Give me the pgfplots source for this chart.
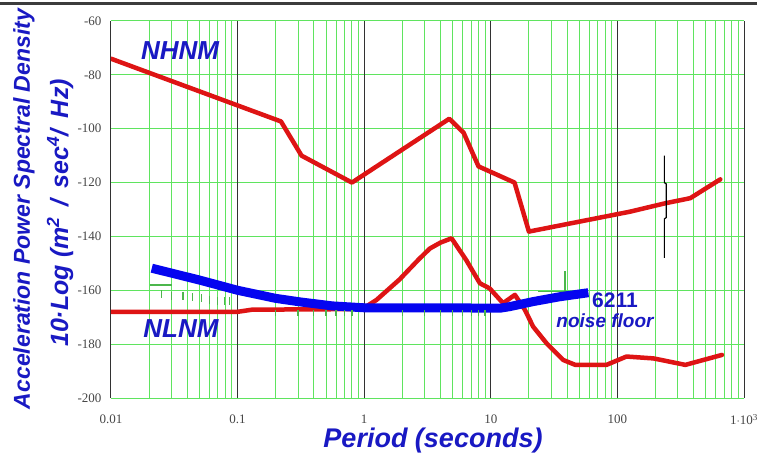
\documentclass[border=0pt]{standalone}
\usepackage{fontspec}
\setmainfont{Liberation Serif}
\newfontfamily\arial{Liberation Sans}
\usepackage{pgfplots}
\pgfplotsset{compat=1.18}
\definecolor{gridgreen}{RGB}{95,228,95}
\definecolor{decgray}{RGB}{50,50,50}
\definecolor{nred}{RGB}{222,20,20}
\definecolor{nblue}{RGB}{5,5,240}
\definecolor{tblue}{RGB}{25,25,195}
\definecolor{ticktext}{RGB}{70,70,70}
\definecolor{topbar}{RGB}{60,60,60}
\begin{document}
\begin{tikzpicture}[x=1pt,y=1pt]
\useasboundingbox (0,0) rectangle (757,453);
\fill[white] (0,0) rectangle (757,453);
\draw[line width=2.5pt, topbar] (0,449.5) -- (757,449.5);
\begin{axis}[
  at={(111pt,55pt)}, anchor=south west,
  scale only axis, width=633pt, height=377pt,
  xmode=log, xmin=0.01, xmax=1000, ymin=-200, ymax=-60,
  axis line style={draw=none},
  major tick length=0pt, minor tick length=0pt,
  xtick={0.01,0.1,1,10,100,1000},
  xticklabels={0.01,0.1,1,10,100,{1$\cdot$10\textsuperscript{3}}},
  minor xtick={0.02,0.03,0.04,0.05,0.06,0.07,0.08,0.09,
               0.2,0.3,0.4,0.5,0.6,0.7,0.8,0.9,
               2,3,4,5,6,7,8,9,20,30,40,50,60,70,80,90,
               200,300,400,500,600,700,800,900},
  xminorgrids=true,
  ytick={-200,-180,-160,-140,-120,-100,-80,-60},
  yticklabels={-200,-180,-160,-140,-120,-100,-80,-60},
  ymajorgrids=true,
  major grid style={gridgreen, line width=1pt},
  minor grid style={gridgreen, line width=1pt},
  extra x ticks={0.01,0.1,1,10,100,1000},
  extra x tick labels={},
  extra x tick style={grid=major, major grid style={decgray, line width=1pt}},
  xticklabel style={font=\fontsize{13}{14}\selectfont, text=ticktext, yshift=-13pt},
  yticklabel style={font=\fontsize{13}{14}\selectfont, text=ticktext, xshift=-6pt},
]
% NHNM
\addplot[nred, line width=4.5pt, line join=round, line cap=round] coordinates {
 (0.01,-74) (0.22,-97.3) (0.32,-110) (0.8,-120) (4.7,-96.3) (6.1,-101.5)
 (8.0,-114) (15.4,-120) (20,-138.2) (126,-130.8) (238,-127.7) (376,-125.8) (650,-118.8)};
% NLNM
\addplot[nred, line width=4.5pt, line join=round, line cap=round] coordinates {
 (0.01,-168) (0.1,-168) (0.13,-167.2) (0.8,-167) (1.0,-166.5) (1.25,-163.6)
 (1.9,-156) (2.7,-148.5) (3.3,-144.5) (4.0,-142.3) (4.9,-140.7) (6.4,-148.8)
 (8.2,-157.4) (9.8,-159.3) (12.5,-164.8) (15.5,-161.7) (18.6,-167.3) (21.6,-173.5)
 (27.6,-179.7) (37.4,-185.9) (46.5,-187.7) (82,-187.7) (118,-184.6) (193,-185.3)
 (344,-187.7) (670,-184)};
% green artefacts
\addplot[gridgreen!80!black, line width=1.3pt] coordinates {(0.0205,-158) (0.0306,-158)};
\addplot[gridgreen!80!black, line width=1.3pt] coordinates {(23.6,-160.5) (48,-160.5)};
\addplot[gridgreen!80!black, line width=1.3pt] coordinates {(38.5,-153) (38.5,-160.5)};
\addplot[gridgreen!80!black, only marks, mark=|, mark size=4pt, mark options={line width=1.3pt}] coordinates {
 (0.025,-161.5) (0.030,-162) (0.037,-162) (0.044,-162.5) (0.052,-163) (0.060,-163.5) (0.069,-164) (0.079,-164) (0.086,-164)};
\addplot[gridgreen!80!black, only marks, mark=|, mark size=3pt, mark options={line width=1.3pt}] coordinates {
 (0.2,-168.5) (0.3,-168.5) (0.4,-168.5) (0.5,-168.5) (0.6,-168.5) (0.7,-168.5) (0.8,-168.5)
 (2,-168.5) (3,-168.5) (4,-168.5) (5,-168.5) (6,-168.5) (7,-168.5) (8,-168.5) (9,-168.5)};
% 6211 noise floor
\addplot[nblue, line width=9pt, line join=round] coordinates {
 (0.021,-151.8) (0.05,-156.2) (0.1,-160) (0.2,-163) (0.31,-164.3) (0.56,-165.8)
 (1,-166.5) (12,-166.6) (14,-166.1) (21.6,-164.2) (35,-162.4) (59,-160.9)};
% black marker line
\addplot[black, line width=1.2pt] coordinates {
 (235,-110) (235,-120) (243,-120.5) (243,-133) (235,-133.5) (235,-148)};
\end{axis}
\node[rotate=90, text=tblue, font=\arial\bfseries\itshape\fontsize{23}{26}\selectfont] at (24,244) {Acceleration Power Spectral Density};
\node[rotate=90, text=tblue, font=\arial\bfseries\itshape\fontsize{25}{28}\selectfont] at (60,240) {10·Log (m\textsuperscript{2}\, /\, sec\textsuperscript{4}/\, Hz)};
\node[text=tblue, font=\arial\bfseries\itshape\fontsize{27}{30}\selectfont] at (433,12) {Period (seconds)};
\node[text=tblue, font=\arial\bfseries\itshape\fontsize{26}{30}\selectfont] at (180,402) {NHNM};
\node[text=tblue, font=\arial\bfseries\itshape\fontsize{26}{30}\selectfont] at (181,124) {NLNM};
\node[text=tblue, font=\arial\bfseries\fontsize{21}{24}\selectfont] at (615,153) {6211};
\node[text=tblue, font=\arial\bfseries\itshape\fontsize{19}{22}\selectfont] at (605,132) {noise floor};
\end{tikzpicture}
\end{document}
